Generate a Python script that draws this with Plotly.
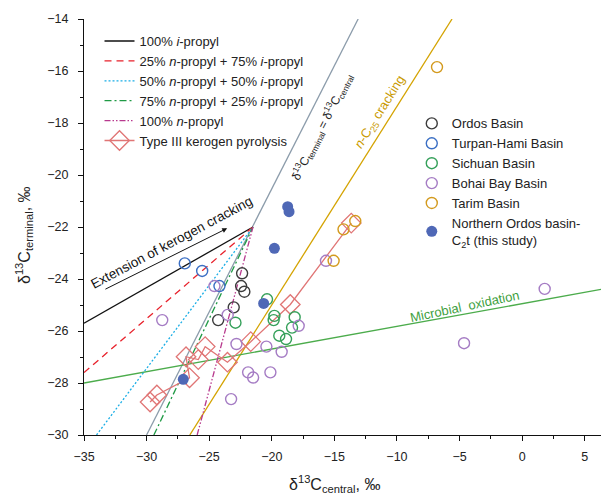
import plotly.graph_objects as go

# ---------------- data ----------------
x_ticks = [-35, -30, -25, -20, -15, -10, -5, 0, 5]
y_ticks = [-30, -28, -26, -24, -22, -20, -18, -16, -14]

# reference lines
equal_x = [-30.0, -13.1]
equal_y = [-30.0, -14.0]
crack_x = [-26.55, -5.6]
crack_y = [-30.0, -14.0]
microb_x = [-35.0, 6.3]
microb_y = [-28.0, -24.4]

# mixing lines (start point -> common end point)
mix_end = (-21.5, -22.0)
mix_names = ["100% <i>i</i>-propyl",
             "25% <i>n</i>-propyl + 75% <i>i</i>-propyl",
             "50% <i>n</i>-propyl + 50% <i>i</i>-propyl",
             "75% <i>n</i>-propyl + 25% <i>i</i>-propyl",
             "100% <i>n</i>-propyl"]
mix_start_x = [-35.0, -35.0, -34.0, -29.42, -25.96]
mix_start_y = [-25.7, -27.6, -30.0, -30.0, -30.0]
mix_colors = ["#111111", "#e8212b", "#1aaee6", "#1f9a45", "#b8398e"]
mix_dash = ["solid", "7px,5px", "2px,2px", "7px,3px,2px,3px", "6px,2px,1.5px,2px,1.5px,2px"]

# Type III kerogen pyrolysis
kero_x = [-29.72, -29.18, -26.57, -26.85, -25.87, -25.32, -23.54, -21.68, -18.52, -13.65]
kero_y = [-28.73, -28.46, -27.80, -26.99, -27.10, -26.60, -27.20, -26.41, -24.98, -21.85]

ordos_x = [-22.37, -22.45, -22.19, -23.04, -24.28]
ordos_y = [-23.78, -24.27, -24.49, -25.09, -25.58]
turpan_x = [-26.95, -25.56, -24.18]
turpan_y = [-23.40, -23.69, -24.27]
sichuan_x = [-22.90, -20.38, -19.79, -19.85, -18.17, -18.38, -19.40, -18.86]
sichuan_y = [-25.68, -24.78, -25.42, -25.58, -25.47, -25.87, -26.18, -26.31]
bohai_x = [-28.75, -24.58, -23.52, -22.82, -21.89, -21.49, -23.25, -20.43, -19.21, -20.11,
           -17.85, -15.67, -4.64, 1.8]
bohai_y = [-25.58, -24.27, -25.38, -26.50, -27.59, -27.79, -28.62, -26.60, -26.80, -27.59,
           -25.80, -23.30, -26.47, -24.38]
tarim_x = [-14.27, -13.33, -15.06, -6.8]
tarim_y = [-22.09, -21.77, -23.30, -15.85]
north_x = [-18.73, -18.62, -19.79, -20.65, -27.07]
north_y = [-21.22, -21.41, -22.82, -24.94, -27.86]

basin_names = ["Ordos Basin", "Turpan-Hami Basin", "Sichuan Basin", "Bohai Bay Basin", "Tarim Basin"]
basin_colors = ["#3c3c3c", "#3b6fc4", "#35a05a", "#a57cc4", "#d39a1e"]
basin_xs = [ordos_x, turpan_x, sichuan_x, bohai_x, tarim_x]
basin_ys = [ordos_y, turpan_y, sichuan_y, bohai_y, tarim_y]

FONT = "Liberation Sans, Arial, sans-serif"

fig = go.Figure()

# reference lines (no legend)
fig.add_trace(go.Scatter(x=equal_x, y=equal_y, mode="lines", showlegend=False,
                         line=dict(color="#8c9cab", width=1.3)))
fig.add_trace(go.Scatter(x=crack_x, y=crack_y, mode="lines", showlegend=False,
                         line=dict(color="#d4a300", width=1.3)))
fig.add_trace(go.Scatter(x=microb_x, y=microb_y, mode="lines", showlegend=False,
                         line=dict(color="#4cac4c", width=1.3)))

for name, sx, sy, c, d in zip(mix_names, mix_start_x, mix_start_y, mix_colors, mix_dash):
    fig.add_trace(go.Scatter(x=[sx, mix_end[0]], y=[sy, mix_end[1]], mode="lines", name=name,
                             legend="legend", line=dict(color=c, width=1.3, dash=d)))

fig.add_trace(go.Scatter(x=kero_x, y=kero_y, mode="lines+markers", name="Type III kerogen pyrolysis",
                         legend="legend",
                         line=dict(color="#e07575", width=1.3),
                         marker=dict(symbol="diamond-open", size=15, color="#e07575",
                                     line=dict(width=1.3, color="#e07575"))))

for name, bx, by, c in zip(basin_names, basin_xs, basin_ys, basin_colors):
    fig.add_trace(go.Scatter(x=bx, y=by, mode="markers", name=name, legend="legend2",
                             marker=dict(symbol="circle-open", size=11, color=c,
                                         line=dict(width=1.4, color=c))))

fig.add_trace(go.Scatter(x=north_x, y=north_y, mode="markers",
                         name="Northern Ordos basin-<br>C<sub>2</sub>t (this study)", legend="legend2",
                         marker=dict(symbol="circle", size=11, color="#4f68b6")))

# annotations
arrow_tail = (-33.41, -24.42)
arrow_head = (-23.56, -22.05)
fig.add_annotation(x=arrow_head[0], y=arrow_head[1], ax=arrow_tail[0], ay=arrow_tail[1],
                   xref="x", yref="y", axref="x", ayref="y", text="", showarrow=True,
                   arrowhead=2, arrowsize=1, arrowwidth=1, arrowcolor="#111111")
fig.add_annotation(x=-28.01, y=-22.58, xref="x", yref="y", text="Extension of kerogen cracking",
                   showarrow=False, textangle=-28, font=dict(family=FONT, size=13.5, color="#111111"))
fig.add_annotation(x=-16.0, y=-18.15, xref="x", yref="y",
                   text="δ<sup>13</sup>C<sub>terminal</sub> = δ<sup>13</sup>C<sub>central</sub>",
                   showarrow=False, textangle=-63, font=dict(family=FONT, size=12, color="#222222"))
fig.add_annotation(x=-11.34, y=-17.6, xref="x", yref="y",
                   text="<i>n</i>-C<sub>25</sub> cracking",
                   showarrow=False, textangle=-58, font=dict(family=FONT, size=13, color="#c99a00"))
fig.add_annotation(x=-4.64, y=-25.04, xref="x", yref="y", text="Microbial  oxidation",
                   showarrow=False, textangle=-12, font=dict(family=FONT, size=13, color="#3f9f3f"))

# axis titles
fig.add_annotation(x=0.4836, y=-0.117, xref="paper", yref="paper", showarrow=False,
                   xanchor="center", yanchor="middle",
                   text="δ<sup>13</sup>C<sub>central</sub>, ‰", font=dict(family=FONT, size=16, color="#222222"))
fig.add_annotation(x=-0.116, y=0.4808, xref="paper", yref="paper", showarrow=False, textangle=-90,
                   xanchor="center", yanchor="middle",
                   text="δ<sup>13</sup>C<sub>terminal</sub>, ‰", font=dict(family=FONT, size=16, color="#222222"))

axis_common = dict(showgrid=False, zeroline=False, showline=True, linecolor="#111111", linewidth=1,
                   ticks="outside", ticklen=5, tickwidth=1, tickcolor="#111111",
                   tickfont=dict(family=FONT, size=12.5, color="#222222"))

fig.update_layout(
    width=601, height=496,
    margin=dict(l=84, r=0, t=19, b=61),
    paper_bgcolor="white", plot_bgcolor="white",
    font=dict(family=FONT, size=13, color="#222222"),
    xaxis=dict(range=[-35, 6.3], tickvals=x_ticks, ticklabelstandoff=5,
               minor=dict(dtick=2.5, tick0=-35, ticks="outside", ticklen=3, tickcolor="#111111"),
               **axis_common),
    yaxis=dict(range=[-30, -14], tickvals=y_ticks, ticklabelstandoff=7,
               minor=dict(dtick=1, tick0=-30, ticks="outside", ticklen=3, tickcolor="#111111"),
               **axis_common),
    legend=dict(x=0.03, y=0.983, xanchor="left", yanchor="top", bgcolor="rgba(0,0,0,0)",
                font=dict(family=FONT, size=13, color="#222222"), tracegroupgap=0),
    legend2=dict(x=0.634, y=0.785, xanchor="left", yanchor="top", bgcolor="rgba(0,0,0,0)",
                 font=dict(family=FONT, size=13, color="#222222"), tracegroupgap=0),
)

fig.write_html("out.html")
